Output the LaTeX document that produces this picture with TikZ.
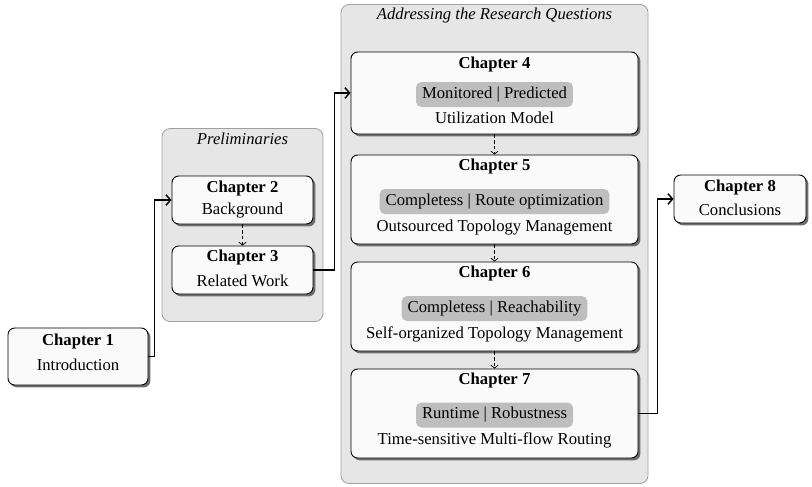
\documentclass[tikz,border=0pt]{standalone}
\usepackage{fontspec}
\setmainfont{Liberation Serif}
\usetikzlibrary{shadows,arrows.meta,calc}

\definecolor{grpfill}{HTML}{E6E6E6}
\definecolor{grpline}{HTML}{A0A0A0}
\definecolor{boxfill}{HTML}{FAFAFA}
\definecolor{tagfill}{HTML}{BEBEBE}
\definecolor{shadowgray}{HTML}{6E6E6E}

\begin{document}
\begin{tikzpicture}[x=0.75pt,y=-0.75pt,
  font=\fontsize{12.5}{14}\selectfont,
  grpbox/.style={draw=grpline, fill=grpfill, rounded corners=6pt, line width=0.6pt},
  grptitle/.style={font=\fontsize{12.5}{14}\selectfont\itshape, inner sep=0pt, anchor=mid},
  chapbox/.style 2 args={draw=black, fill=boxfill, rounded corners=5pt, line width=0.7pt,
    minimum width=#1*0.75pt, minimum height=#2*0.75pt, inner sep=0pt,
    drop shadow={shadow xshift=1.8pt, shadow yshift=-1.8pt, fill=shadowgray, opacity=1}},
  chaptitle/.style={font=\fontsize{12.5}{14}\selectfont\bfseries, inner sep=0pt, anchor=mid},
  chapsub/.style={inner sep=0pt, anchor=mid},
  tagbox/.style={fill=tagfill, rounded corners=4pt, inner xsep=4.5pt, inner ysep=0pt,
    minimum height=25*0.75pt, text height=1.75ex, text depth=0.5ex},
  conn/.style={line width=1.1pt, -{Straight Barb[length=3.5pt,width=8pt,line width=1.1pt]}},
  seq/.style={line width=0.55pt, dash pattern=on 2.5pt off 1.8pt,
    -{Straight Barb[length=2.2pt,width=5.5pt,line width=0.55pt]}}
]
\useasboundingbox (0,0) rectangle (812,486);

% group panels
\node[grpbox, minimum width=161*0.75pt, minimum height=193*0.75pt] (prelim) at (242.5,225) {};
\node[grptitle] (prelimtitle) at (242.5,141) {Preliminaries};
\node[grpbox, minimum width=307*0.75pt, minimum height=479*0.75pt] (rq) at (494.5,244) {};
\node[grptitle] (rqtitle) at (494.5,16) {Addressing the Research Questions};

% chapter boxes
\node[chapbox={140}{57}] (c1) at (78,356.5) {};
\node[chaptitle] (c1t) at (78,342) {Chapter 1};
\node[chapsub] (c1s) at (78,367.5) {Introduction};

\node[chapbox={141}{48}] (c2) at (242.5,200) {};
\node[chaptitle] (c2t) at (242.5,189) {Chapter 2};
\node[chapsub] (c2s) at (242.5,211.5) {Background};

\node[chapbox={141}{48}] (c3) at (242.5,270) {};
\node[chaptitle] (c3t) at (242.5,258.5) {Chapter 3};
\node[chapsub] (c3s) at (242.5,283) {Related Work};

\node[chapbox={287}{82}] (c4) at (494.5,93) {};
\node[chaptitle] (c4t) at (494.5,65) {Chapter 4};
\node[tagbox] (c4q) at (494.5,94.5) {Monitored | Predicted};
\node[chapsub] (c4s) at (494.5,120.5) {Utilization Model};

\node[chapbox={287}{89}] (c5) at (494.5,199.5) {};
\node[chaptitle] (c5t) at (494.5,167) {Chapter 5};
\node[tagbox] (c5q) at (494.5,201.5) {Completess | Route optimization};
\node[chapsub] (c5s) at (494.5,228.5) {Outsourced Topology Management};

\node[chapbox={287}{89}] (c6) at (494.5,306.5) {};
\node[chaptitle] (c6t) at (494.5,274.5) {Chapter 6};
\node[tagbox] (c6q) at (494.5,308.5) {Completess | Reachability};
\node[chapsub] (c6s) at (494.5,335) {Self-organized Topology Management};

\node[chapbox={287}{89}] (c7) at (494.5,413.5) {};
\node[chaptitle] (c7t) at (494.5,381.5) {Chapter 7};
\node[tagbox] (c7q) at (494.5,415) {Runtime | Robustness};
\node[chapsub] (c7s) at (494.5,441.5) {Time-sensitive Multi-flow Routing};

\node[chapbox={132}{48}] (c8) at (740,199) {};
\node[chaptitle] (c8t) at (740,188.5) {Chapter 8};
\node[chapsub] (c8s) at (740,212.5) {Conclusions};

% reading order inside the groups
\draw[seq] (c2.south) -- (c3.north);
\draw[seq] (c4.south) -- (c5.north);
\draw[seq] (c5.south) -- (c6.north);
\draw[seq] (c6.south) -- (c7.north);

% flow between the parts
\draw[conn] (c1.east) -- ($(c1.east)+(6,0)$) |- (c2.west);
\draw[conn] (c3.east) -- ($(c3.east)+(21,0)$) |- (c4.west);
\draw[conn] (c7.east) -- ($(c7.east)+(19,0)$) |- (c8.west);
\end{tikzpicture}
\end{document}
